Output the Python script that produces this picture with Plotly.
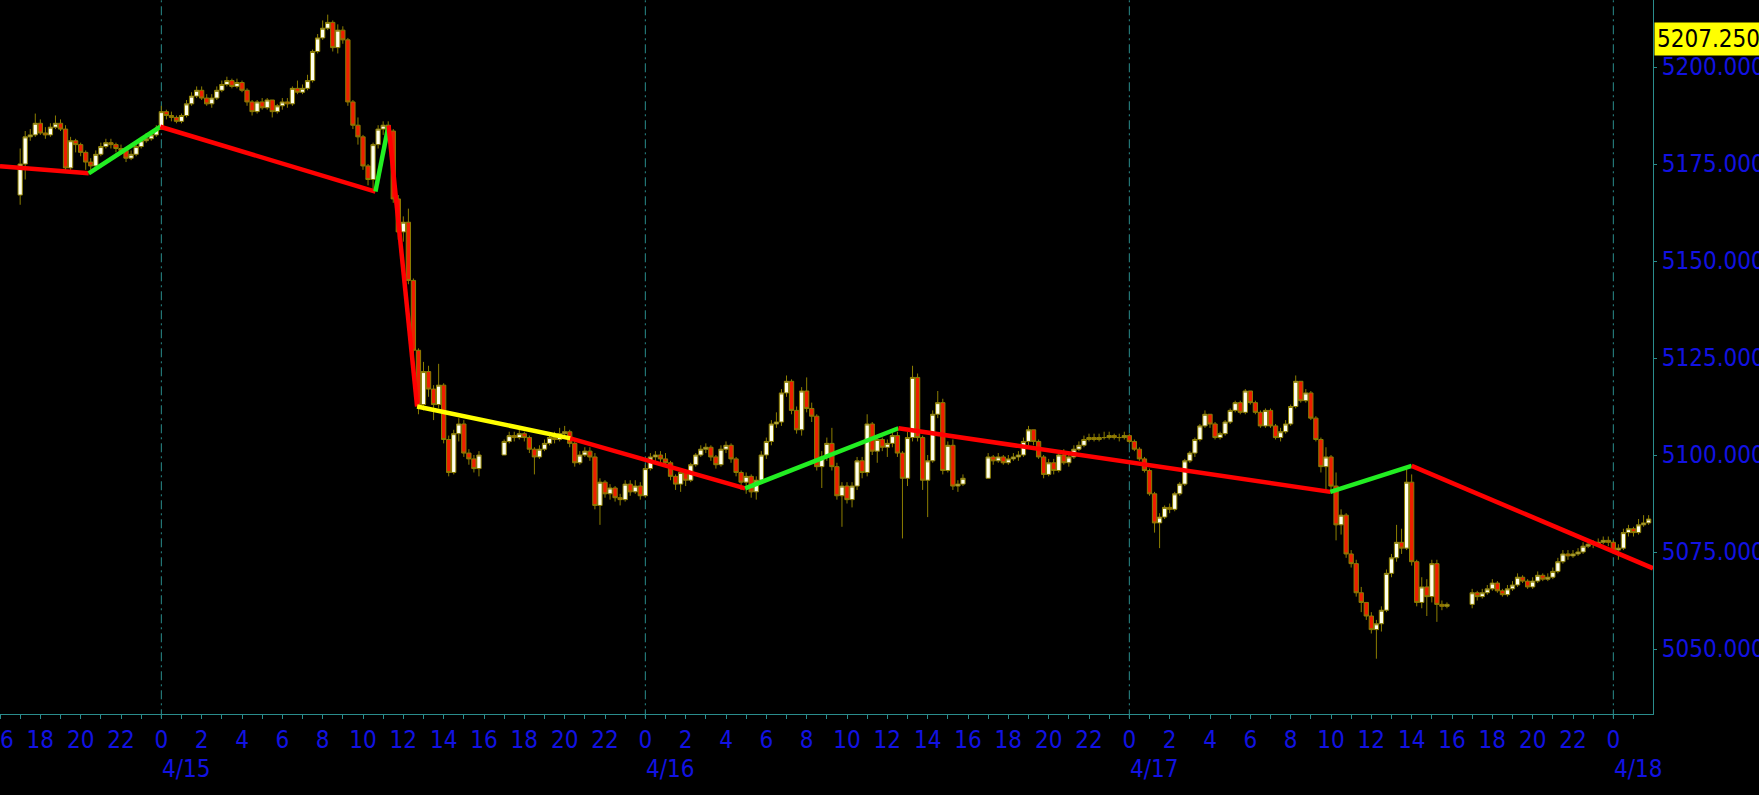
import pandas as pd
import plotly.graph_objects as go

# ---------------- data (15-minute bars) ----------------
session_start = ["2024-04-14 17:00", "2024-04-15 17:00", "2024-04-16 17:00", "2024-04-17 17:00"]
session_end = ["2024-04-15 15:45", "2024-04-16 15:45", "2024-04-17 15:45", "2024-04-18 01:45"]
first_open = 5167.0

s1_close = [5175, 5182, 5182.5, 5185.5, 5183, 5182.5, 5184.5, 5185.5, 5184, 5174, 5181, 5180,
            5178, 5175.5, 5174.5, 5177.5, 5179.5, 5180.5, 5180, 5179, 5178.5, 5176.5, 5177.5, 5179.5,
            5181, 5181.5, 5182.5, 5184, 5188.5, 5187.5, 5187, 5186, 5187.5, 5190.5, 5192.5, 5194,
            5192, 5190.5, 5192, 5194, 5195.5, 5196.5, 5195, 5196, 5194, 5191, 5188.5, 5191,
            5189.5, 5191.5, 5188.5, 5190, 5191, 5190.5, 5194.5, 5193.5, 5194.5, 5196.5, 5204, 5207.5,
            5210, 5211.5, 5205, 5209.5, 5207, 5191, 5185, 5182, 5174.5, 5171, 5180, 5184,
            5185, 5183.5, 5166, 5157.5, 5160, 5145, 5127, 5113, 5121.5, 5117, 5113, 5118,
            5104, 5095.5, 5105.5, 5108, 5100.5, 5099, 5096.5, 5100]
s1_high = [5179, 5183.5, 5184, 5188, 5186.5, 5184.5, 5185.5, 5187.5, 5186.5, 5185, 5182, 5181.5,
           5180.5, 5178.5, 5176.5, 5178.5, 5180.5, 5181.5, 5181.5, 5180.5, 5180, 5179, 5178.5, 5180.5,
           5182, 5183, 5183.5, 5185, 5190, 5189, 5188.5, 5187.5, 5188, 5191.5, 5193.5, 5195,
           5195, 5193, 5193, 5195, 5196.5, 5197.5, 5197, 5197, 5196.5, 5194.5, 5191.5, 5191.5,
           5192, 5192, 5191.5, 5190.5, 5192, 5192, 5195, 5196.5, 5195.5, 5198, 5204.5, 5208.5,
           5212, 5213.5, 5212, 5211, 5210.5, 5207.5, 5191.5, 5187, 5182.5, 5175, 5180.5, 5185,
           5186, 5186, 5184, 5167, 5161.5, 5163.5, 5145.5, 5127.5, 5124, 5123, 5118, 5123.5,
           5118.5, 5105, 5106.5, 5109.5, 5109, 5101.5, 5100, 5101]
s1_low = [5164.5, 5171, 5181, 5182, 5182.5, 5181.5, 5182, 5184, 5183.5, 5173, 5172.5, 5178,
          5177, 5173.5, 5173.5, 5174.5, 5177, 5179, 5179, 5178, 5177.5, 5175.5, 5176, 5177,
          5179, 5180.5, 5181, 5182, 5184.5, 5186.5, 5186, 5185.5, 5185.5, 5187, 5190, 5192,
          5191.5, 5190, 5189.5, 5191.5, 5193.5, 5195, 5194.5, 5194.5, 5193.5, 5190, 5187.5, 5188,
          5189, 5189, 5187, 5188, 5189, 5189.5, 5190, 5193, 5193, 5194, 5196, 5203.5,
          5207, 5209.5, 5204, 5203.5, 5206, 5190, 5184, 5180, 5173.5, 5169.5, 5168.5, 5179,
          5182.5, 5182, 5165, 5155.5, 5155, 5144, 5126, 5110.5, 5111.5, 5115, 5109, 5112,
          5103, 5094.5, 5095, 5103.5, 5099.5, 5097.5, 5095.5, 5094.5]

s2_close = [5103.5, 5105, 5104.5, 5105.5, 5104.5, 5101.5, 5099.5, 5101.5, 5103, 5104.5, 5104, 5105.5,
            5106, 5103, 5098, 5100, 5101, 5099.5, 5087, 5093, 5090, 5091.5, 5089, 5088.5,
            5092.5, 5090.5, 5092, 5089.5, 5096.5, 5099.5, 5100, 5099, 5098, 5094.5, 5092.5, 5095.5,
            5093.5, 5097.5, 5100, 5101.5, 5102, 5099.5, 5097.5, 5101.5, 5102.5, 5099, 5095.5, 5093,
            5094.5, 5090.5, 5093.5, 5100, 5103.5, 5108, 5108.5, 5116, 5119, 5111.5, 5106.5, 5116.5,
            5112, 5110, 5097, 5099.5, 5103, 5097, 5089.5, 5092, 5088.5, 5092, 5098.5, 5095.5,
            5108, 5101, 5104, 5102, 5103, 5105, 5100.5, 5094, 5104.5, 5120, 5104.5, 5093.5,
            5098.5, 5110.5, 5113.5, 5096, 5102.5, 5092, 5092.5, 5094]
s2_high = [5104, 5106, 5106, 5106.5, 5106, 5105, 5102, 5102.5, 5104, 5105.5, 5106, 5107,
           5107.5, 5106.5, 5103.5, 5101, 5102, 5102, 5100.5, 5094, 5093.5, 5092.5, 5092, 5090,
           5093.5, 5093.5, 5093.5, 5093, 5097.5, 5100.5, 5101, 5101, 5100.5, 5098.5, 5095, 5096.5,
           5096, 5098, 5100.5, 5102.5, 5103, 5102.5, 5100, 5102.5, 5103.5, 5103, 5099.5, 5096,
           5095.5, 5095, 5094.5, 5101, 5104.5, 5109, 5111, 5117, 5120.5, 5119.5, 5112.5, 5117.5,
           5120, 5113.5, 5110.5, 5101, 5104.5, 5107, 5098, 5093, 5093, 5093, 5099.5, 5099.5,
           5110.5, 5108.5, 5105, 5104.5, 5104, 5106.5, 5106, 5101, 5106, 5123, 5121, 5105,
           5100, 5111.5, 5116.5, 5114.5, 5103.5, 5104, 5093.5, 5095]
s2_low = [5100.5, 5103, 5103.5, 5104, 5103.5, 5100.5, 5095, 5099, 5101, 5102.5, 5103, 5103.5,
          5104.5, 5102, 5097, 5097.5, 5099.5, 5098.5, 5086, 5082, 5089, 5088.5, 5088, 5087,
          5088, 5089.5, 5090, 5088.5, 5089, 5096, 5098.5, 5098, 5097, 5093.5, 5091, 5090.5,
          5092, 5093, 5097, 5099.5, 5100.5, 5098.5, 5096.5, 5097, 5100.5, 5098, 5094.5, 5091,
          5090, 5089, 5088.5, 5093, 5099, 5102.5, 5107, 5107.5, 5115, 5110.5, 5105.5, 5105,
          5111, 5108.5, 5096, 5091.5, 5098.5, 5096, 5088.5, 5081.5, 5087.5, 5086.5, 5091, 5094,
          5094.5, 5100, 5098, 5101, 5099.5, 5102, 5099.5, 5078.5, 5092, 5103.5, 5103.5, 5091,
          5084, 5098, 5109.5, 5095, 5095.5, 5091, 5090.5, 5092]

s3_close = [5099.5, 5098.5, 5099.5, 5098, 5099, 5099.5, 5100, 5103.5, 5106.5, 5103.5, 5099.5, 5095,
            5098, 5096, 5100, 5098, 5099.5, 5101.5, 5102.5, 5104, 5104.5, 5104, 5104.5, 5104.5,
            5105, 5104.5, 5104.5, 5105, 5103.5, 5101.5, 5099, 5096, 5090, 5082.5, 5084, 5086.5,
            5086, 5090, 5092.5, 5098.5, 5100.5, 5104, 5107.5, 5110.5, 5108, 5104.5, 5105.5, 5108.5,
            5111.5, 5113.5, 5111, 5116.5, 5113.5, 5111, 5107.5, 5111.5, 5107.5, 5104.5, 5106, 5108,
            5112.5, 5119, 5114, 5116, 5109.5, 5104, 5097, 5099.5, 5092, 5082, 5084.5, 5074.5,
            5072, 5064.5, 5062, 5058.5, 5055, 5056.5, 5060, 5069.5, 5073.5, 5077.5, 5076, 5093,
            5072.5, 5062, 5066, 5063.5, 5072, 5061.5, 5061, 5061.5]
s3_high = [5100.5, 5100, 5100.5, 5100, 5100, 5100.5, 5101, 5104.5, 5107.5, 5106.5, 5104, 5100,
           5099, 5099, 5101, 5101.5, 5100, 5102.5, 5103.5, 5105, 5105.5, 5105.5, 5105.5, 5106,
           5106, 5105.5, 5105.5, 5106, 5105.5, 5104, 5102, 5099.5, 5096.5, 5090.5, 5085, 5087,
           5087.5, 5090.5, 5093, 5099, 5101, 5104.5, 5108, 5111.5, 5110.5, 5108.5, 5106, 5109,
           5112, 5114, 5114, 5117, 5116.5, 5114, 5111.5, 5112, 5112, 5108, 5107, 5109,
           5113, 5120.5, 5119, 5117, 5116.5, 5110, 5104.5, 5102, 5100, 5095.5, 5086, 5085,
           5075.5, 5073, 5066, 5062, 5059.5, 5057.5, 5061, 5070.5, 5074.5, 5082, 5081, 5097,
           5095, 5073, 5068.5, 5068, 5073, 5073, 5062.5, 5062]
s3_low = [5096, 5097.5, 5098, 5097.5, 5097.5, 5098.5, 5098.5, 5099.5, 5102.5, 5102.5, 5099, 5094,
          5094.5, 5095, 5095.5, 5097.5, 5097, 5099, 5101, 5102, 5103.5, 5103.5, 5103.5, 5104,
          5104, 5104, 5103.5, 5104, 5103, 5101, 5098.5, 5095.5, 5089.5, 5080, 5076, 5083.5,
          5085, 5085.5, 5089.5, 5092, 5098, 5099.5, 5103.5, 5107, 5107, 5104, 5104, 5105,
          5108, 5111, 5110.5, 5110.5, 5113, 5110.5, 5107, 5107, 5107, 5104, 5103.5, 5105.5,
          5107.5, 5112, 5113.5, 5113.5, 5109, 5103.5, 5095.5, 5091, 5090, 5078, 5079.5, 5073.5,
          5071, 5063.5, 5059.5, 5057.5, 5054, 5047.5, 5054.5, 5059.5, 5068.5, 5072.5, 5074.5, 5075.5,
          5071.5, 5061, 5060.5, 5058.5, 5062, 5057, 5060, 5060.5]

s4_close = [5064.5, 5063.5, 5064.5, 5065.5, 5067, 5065, 5064, 5065.5, 5066.5, 5068.5, 5067.5, 5066,
            5067.5, 5069, 5068, 5068.5, 5070, 5072.5, 5074.5, 5074, 5074.5, 5075, 5076.5, 5077,
            5077, 5077.5, 5078, 5077.5, 5075.5, 5076, 5080, 5081, 5080, 5082, 5082.5, 5083.5]
s4_high = [5065.5, 5065, 5065.5, 5066.5, 5068, 5067.5, 5065.5, 5066.5, 5067.5, 5069.5, 5069, 5068,
           5068.5, 5070, 5069.5, 5069.5, 5071, 5073.5, 5075.5, 5075.5, 5075.5, 5076, 5077.5, 5078,
           5078, 5078.5, 5079, 5079, 5078, 5077, 5081, 5082, 5081.5, 5083.5, 5084.5, 5084.5]
s4_low = [5060.5, 5062.5, 5063, 5064, 5065, 5064.5, 5063.5, 5063.5, 5065, 5066, 5067, 5065.5,
          5065.5, 5067, 5067.5, 5067.5, 5068, 5069.5, 5072, 5073, 5073.5, 5074, 5074.5, 5076,
          5076, 5076.5, 5077, 5076.5, 5074.5, 5073, 5075.5, 5079, 5079, 5079.5, 5081.5, 5082]

# zigzag pivots
pivot_time = ["2024-04-14 16:00", "2024-04-14 20:24", "2024-04-14 23:57", "2024-04-15 10:37",
              "2024-04-15 11:16", "2024-04-15 12:41", "2024-04-15 20:17", "2024-04-16 04:57",
              "2024-04-16 12:33", "2024-04-17 09:58", "2024-04-17 14:00", "2024-04-18 01:58"]
pivot_price = [5174.4, 5172.6, 5184.6, 5167.9, 5185.0, 5112.5, 5104.3, 5091.4,
               5106.9, 5090.5, 5097.2, 5070.8]
segment_color = ["#FF0000", "#22EE22", "#FF0000", "#22EE22", "#FF0000", "#FFFF00",
                 "#FF0000", "#22EE22", "#FF0000", "#22EE22", "#FF0000"]

# axes
x_range = ["2024-04-14 16:00", "2024-04-18 01:58"]
y_range = [5033.25, 5217.27]
y_ticks = [5050, 5075, 5100, 5125, 5150, 5175, 5200]
day_marks = ["2024-04-15", "2024-04-16", "2024-04-17", "2024-04-18"]
day_labels = ["4/15", "4/16", "4/17", "4/18"]
last_marker = 5207.25

# ---------------- build ----------------
close = s1_close + s2_close + s3_close + s4_close
high = s1_high + s2_high + s3_high + s4_high
low = s1_low + s2_low + s3_low + s4_low
times = []
for a, b in zip(session_start, session_end):
    times += list(pd.date_range(a, b, freq="15min"))
assert len(times) == len(close) == len(high) == len(low), (len(times), len(close), len(high), len(low))
opens = [first_open] + close[:-1]
high = [max(h, o, c) for h, o, c in zip(high, opens, close)]
low = [min(l, o, c) for l, o, c in zip(low, opens, close)]

BLUE = "#1212E2"
TEAL = "#2A8C8C"
OLIVE = "#8C7E00"
FONT = "DejaVu Sans Condensed, Liberation Sans, sans-serif"

fig = go.Figure()
fig.add_trace(go.Candlestick(
    x=times, open=opens, high=high, low=low, close=close,
    increasing=dict(fillcolor="#FFFFEE", line=dict(color=OLIVE, width=1)),
    decreasing=dict(fillcolor="#EE1E00", line=dict(color=OLIVE, width=1)),
    whiskerwidth=0, showlegend=False, hoverinfo="skip",
))
for i, col in enumerate(segment_color):
    fig.add_trace(go.Scatter(
        x=[pivot_time[i], pivot_time[i + 1]], y=[pivot_price[i], pivot_price[i + 1]],
        mode="lines", line=dict(color=col, width=4.5), showlegend=False, hoverinfo="skip",
        cliponaxis=True,
    ))

hours = pd.date_range("2024-04-14 16:00", "2024-04-18 01:00", freq="1h")
tick_text = [str(h.hour) if h.hour % 2 == 0 else "" for h in hours]

for d in day_marks:
    fig.add_shape(type="line", xref="x", yref="paper", x0=d, x1=d, y0=-0.006, y1=1,
                  line=dict(color=TEAL, width=1, dash="9px,4px,2px,4px"), layer="below")

for d, lab in zip(day_marks, day_labels):
    fig.add_annotation(x=d, xref="x", y=0, yref="paper", yshift=-55, text=lab,
                       showarrow=False, xanchor="left", yanchor="middle",
                       font=dict(family=FONT, size=24, color=BLUE), borderpad=0)

fig.add_annotation(x=1, xref="paper", y=last_marker, yref="y", text=f"{last_marker:.3f}",
                   showarrow=False, xanchor="left", yanchor="middle", xshift=1,
                   bgcolor="#FFFF00", borderpad=2,
                   font=dict(family=FONT, size=24, color="#000000"))

fig.update_layout(
    width=1759, height=795,
    paper_bgcolor="#000000", plot_bgcolor="#000000",
    margin=dict(l=0, r=106, t=0, b=81, pad=0, autoexpand=False),
    boxgap=0.15, boxgroupgap=0,
    xaxis=dict(type="date", range=x_range, rangeslider=dict(visible=False), automargin=False,
               tickmode="array", tickvals=list(hours), ticktext=tick_text,
               showgrid=False, zeroline=False, showline=True, linecolor=TEAL, linewidth=1,
               ticks="outside", ticklen=4, tickcolor=TEAL, ticklabeloverflow="allow",
               tickfont=dict(family=FONT, size=24, color=BLUE)),
    yaxis=dict(side="right", range=y_range, tickmode="array", tickvals=y_ticks, automargin=False,
               ticktext=[f"{v:.3f}" for v in y_ticks],
               showgrid=False, zeroline=False, showline=True, linecolor=TEAL, linewidth=1,
               ticks="outside", ticklen=3, tickcolor=TEAL, ticklabeloverflow="allow",
               tickfont=dict(family=FONT, size=24, color=BLUE)),
)

fig.write_html(
    "out.html",
    config={"displayModeBar": False},
    post_script="document.body.style.margin='0';document.body.style.background='#000';"
                "document.body.style.overflow='hidden';",
)
